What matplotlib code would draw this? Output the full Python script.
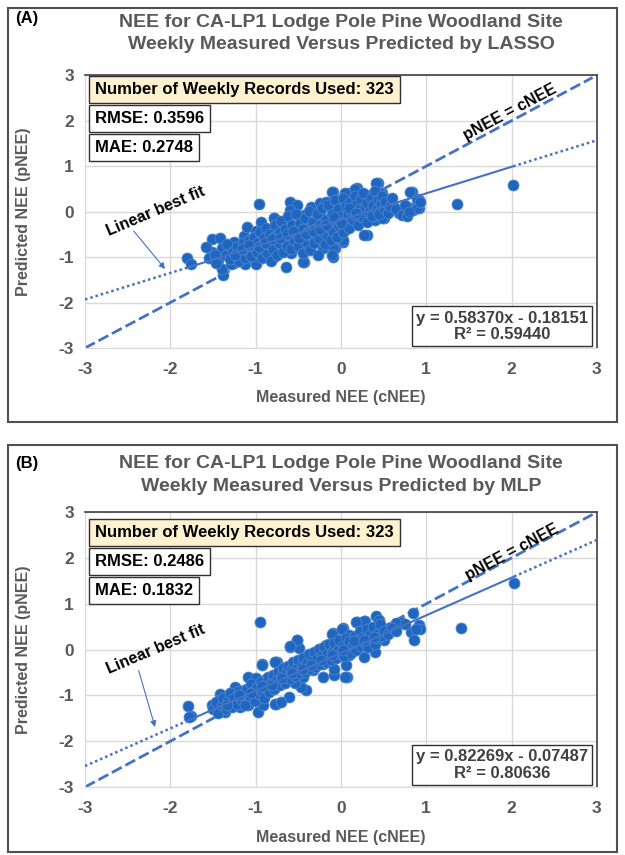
import numpy as np
import matplotlib
matplotlib.use('Agg')
import matplotlib.pyplot as plt
from matplotlib.patches import Rectangle

plt.rcParams['font.family'] = ['Liberation Sans', 'DejaVu Sans']
plt.rcParams['font.weight'] = 'bold'
plt.rcParams['axes.labelweight'] = 'bold'
plt.rcParams['axes.unicode_minus'] = False

# measured (cNEE), predicted (pNEE) pairs
lasso_points = [
    (-0.96, 0.17), (-0.79, -0.14), (-1.80, -1.02), (-1.76, -1.16), (-1.51, -0.61), (-1.42, -0.58),
    (-1.51, -0.89), (-1.40, -0.80), (-1.44, -1.07), (-1.38, -1.40), (-1.40, -1.26), (-1.29, -1.16),
    (-1.25, -0.67), (-1.14, -0.53), (-1.10, -0.34), (-0.94, -0.23), (-1.00, -0.42), (-1.22, -1.00),
    (-1.12, -1.15), (-1.00, -1.16), (-1.04, -0.85), (-0.91, -0.74), (-0.82, -1.00), (-0.75, -0.45),
    (-0.84, -0.64), (-0.76, -0.78), (-0.79, -0.13), (-0.60, 0.22), (-0.51, 0.15), (-0.60, 0.04),
    (-0.62, -0.26), (-0.74, -0.40), (-0.78, -0.63), (-0.66, -0.55), (-0.70, -0.81), (-0.78, -0.99),
    (-0.64, -1.21), (-0.58, -0.92), (-0.43, -1.10), (-0.46, -0.85), (-0.54, -0.70), (-0.43, -0.63),
    (-0.35, -0.33), (-0.43, -0.07), (-0.35, 0.11), (-0.25, 0.18), (-0.09, 0.44), (-0.17, 0.22),
    (-0.03, 0.18), (0.09, 0.40), (0.19, 0.51), (0.07, 0.18), (-0.23, -0.11), (-0.15, -0.26),
    (-0.29, -0.48), (-0.23, -0.63), (-0.21, -0.81), (-0.07, -0.81), (-0.09, -0.99), (0.03, -0.66),
    (0.05, -0.40), (0.15, -0.26), (0.20, -0.15), (0.30, -0.51), (0.24, 0.04), (0.34, 0.37),
    (0.44, 0.63), (0.48, 0.40), (0.36, 0.11), (0.40, -0.04), (0.40, -0.18), (0.50, -0.15),
    (0.13, -0.04), (0.62, 0.11), (0.68, 0.00), (0.83, 0.44), (0.91, 0.26), (0.83, 0.07),
    (0.91, 0.07), (-0.09, -0.29), (-0.03, -0.15), (-0.43, -0.33), (-0.50, -0.44), (1.36, 0.17),
    (2.02, 0.59), (0.61, 0.12), (0.66, 0.03), (0.68, -0.03), (0.81, 0.43), (0.81, 0.08),
    (0.84, 0.03), (0.89, 0.27), (0.89, 0.08), (-0.11, 0.43), (0.16, 0.49), (0.41, 0.62),
    (0.46, 0.41), (0.48, -0.14), (0.38, -0.10), (0.27, -0.52), (-0.09, -0.80), (-0.11, -0.96),
    (-0.44, -1.11), (0.02, -0.63), (0.05, 0.41),
    (-1.58, -0.78), (-1.55, -1.02), (-1.48, -0.95), (-1.46, -1.12), (-1.35, -0.95), (-1.33, -0.72),
    (-1.30, -1.05), (-1.27, -0.88), (-1.22, -0.78), (-1.20, -1.08), (-1.18, -0.92), (-1.15, -0.70),
    (-1.13, -1.02), (-1.10, -0.85), (-1.08, -0.62), (-1.06, -0.98), (-1.04, -0.75), (-1.02, -0.55),
    (-0.98, -0.88), (-0.97, -0.66), (-0.95, -0.45), (-0.93, -1.02), (-0.92, -0.80), (-0.90, -0.58),
    (-0.88, -0.35), (-0.87, -0.92), (-0.85, -0.72), (-0.83, -0.50), (-0.82, -1.08), (-0.80, -0.82),
    (-0.78, -0.55), (-0.77, -0.30), (-0.75, -0.95), (-0.73, -0.68), (-0.72, -0.45), (-0.70, -0.20),
    (-0.68, -0.88), (-0.67, -0.60), (-0.65, -0.38), (-0.63, -0.75), (-0.62, -0.10), (-0.60, -0.52),
    (-0.58, -0.82), (-0.57, -0.30), (-0.55, -0.62), (-0.53, -0.05), (-0.52, -0.48), (-0.50, -0.75),
    (-0.48, -0.25), (-0.47, -0.55), (-0.45, -0.92), (-0.44, -0.38), (-0.42, -0.15), (-0.40, -0.68),
    (-0.39, -0.45), (-0.37, 0.02), (-0.36, -0.85), (-0.34, -0.55), (-0.33, -0.22), (-0.31, -0.70),
    (-0.30, -0.38), (-0.28, -0.05), (-0.27, -0.95), (-0.26, -0.58), (-0.24, -0.30), (-0.22, 0.08),
    (-0.21, -0.45), (-0.19, -0.72), (-0.18, -0.18), (-0.16, -0.52), (-0.15, 0.15), (-0.13, -0.35),
    (-0.12, -0.62), (-0.10, -0.05), (-0.09, -0.42), (-0.07, 0.25), (-0.06, -0.20), (-0.05, -0.55),
    (-0.03, 0.05), (-0.02, -0.32), (0.00, -0.10), (0.02, 0.30), (0.03, -0.45), (0.05, -0.22),
    (0.06, 0.12), (0.08, -0.05), (0.10, -0.35), (0.11, 0.22), (0.12, 0.02), (0.14, -0.18),
    (0.16, 0.35), (0.17, -0.08), (0.18, 0.15), (0.20, -0.30), (0.22, 0.05), (0.23, 0.28),
    (0.25, -0.12), (0.26, 0.42), (0.28, 0.10), (0.30, -0.22), (0.31, 0.20), (0.33, 0.00),
    (0.35, 0.30), (0.36, -0.10), (0.38, 0.15), (0.40, 0.45), (0.42, 0.05), (0.43, 0.25),
    (0.45, -0.05), (0.47, 0.18), (0.48, 0.35), (0.50, 0.08), (0.52, 0.22), (0.55, -0.02),
    (0.57, 0.12), (0.60, 0.30), (0.64, 0.05), (0.72, -0.08), (0.75, 0.15), (0.78, -0.10),
    (0.80, 0.00), (0.93, 0.22),
    (-1.24, -0.95), (-1.16, -0.82), (-1.08, -0.74), (-0.96, -0.78), (-0.89, -0.68), (-0.81, -0.60),
    (-0.71, -0.58), (-0.63, -0.50), (-0.56, -0.42), (-0.49, -0.58), (-0.41, -0.50), (-0.33, -0.42),
    (-0.25, -0.38), (-0.17, -0.30), (-0.08, -0.12), (0.00, -0.25), (0.09, 0.08), (0.18, -0.02),
]

mlp_points = [
    (-0.95, 0.61), (-0.93, -0.32), (-0.77, -0.27), (-1.09, -0.60), (-1.00, -0.61), (-0.88, -0.64),
    (-1.14, -0.88), (-1.24, -0.82), (-1.42, -0.96), (-1.51, -1.22), (-1.43, -1.11), (-1.36, -1.36),
    (-1.26, -1.11), (-1.18, -1.26), (-1.09, -1.22), (-0.97, -1.36), (-0.91, -1.22), (-0.76, -1.18),
    (-1.79, -1.24), (-1.76, -1.44), (-1.78, -1.47), (-0.85, -0.89), (-0.77, -0.67), (-0.51, 0.21),
    (-0.93, -0.34), (-0.60, 0.05), (-0.49, 0.04), (-0.75, -0.27), (-0.09, 0.36), (0.02, 0.47),
    (0.19, 0.60), (0.28, 0.62), (0.07, -0.60), (0.41, 0.73), (0.45, 0.64), (0.27, 0.63),
    (0.18, 0.61), (0.84, 0.79), (0.70, 0.61), (0.64, 0.57), (0.91, 0.53), (0.93, 0.44),
    (0.82, 0.39), (0.86, 0.20), (0.51, 0.20), (0.40, -0.05), (0.27, -0.16), (0.06, -0.34),
    (0.05, -0.60), (-0.08, -0.56), (-0.08, -0.42), (-0.21, -0.60), (-0.10, 0.35), (0.01, 0.44),
    (0.10, 0.31), (-0.51, 0.20), (-0.60, 0.07), (-0.77, -0.27), (-0.41, -0.89), (-0.47, -0.82),
    (-0.61, -1.04), (-0.77, -1.18), (-0.70, -1.15), (0.21, 0.31), (0.33, 0.20), (-0.25, 0.02),
    (-0.18, 0.09), (-0.33, -0.12), (-0.41, -0.27), (-0.51, -0.38), (-0.60, -0.49), (-0.33, -0.45),
    (-0.21, -0.31), (-0.45, -0.60), (-0.54, -0.74), (-0.68, -0.67), (0.10, 0.06), (-0.02, 0.12),
    (0.21, 0.09), (0.33, 0.45), (0.10, -0.12), (1.41, 0.47), (2.03, 1.45),
    (-1.50, -1.30), (-1.47, -1.15), (-1.44, -1.38), (-1.40, -1.22), (-1.38, -1.05), (-1.35, -1.30),
    (-1.32, -1.12), (-1.30, -0.95), (-1.28, -1.25), (-1.25, -1.05), (-1.22, -1.18), (-1.20, -0.90),
    (-1.17, -1.08), (-1.15, -0.98), (-1.12, -1.20), (-1.10, -0.85), (-1.07, -1.02), (-1.05, -0.75),
    (-1.03, -0.92), (-1.01, -1.12), (-0.98, -0.82), (-0.96, -0.98), (-0.94, -0.70), (-0.92, -0.88),
    (-0.90, -1.05), (-0.88, -0.78), (-0.86, -0.60), (-0.84, -0.92), (-0.82, -0.72), (-0.80, -0.55),
    (-0.78, -0.85), (-0.76, -0.68), (-0.74, -0.48), (-0.72, -0.78), (-0.70, -0.58), (-0.68, -0.40),
    (-0.66, -0.72), (-0.64, -0.52), (-0.62, -0.35), (-0.60, -0.65), (-0.58, -0.45), (-0.56, -0.28),
    (-0.54, -0.58), (-0.52, -0.40), (-0.50, -0.22), (-0.48, -0.52), (-0.46, -0.35), (-0.44, -0.18),
    (-0.42, -0.48), (-0.40, -0.30), (-0.38, -0.10), (-0.36, -0.42), (-0.34, -0.25), (-0.32, -0.05),
    (-0.30, -0.38), (-0.28, -0.20), (-0.26, 0.02), (-0.24, -0.32), (-0.22, -0.15), (-0.20, 0.05),
    (-0.18, -0.28), (-0.16, -0.10), (-0.14, 0.12), (-0.12, -0.22), (-0.10, -0.05), (-0.08, 0.15),
    (-0.06, -0.18), (-0.04, 0.00), (-0.02, 0.20), (0.00, -0.10), (0.02, 0.08), (0.04, -0.15),
    (0.06, 0.25), (0.08, 0.02), (0.10, 0.18), (0.12, -0.08), (0.14, 0.10), (0.16, 0.30),
    (0.18, 0.00), (0.20, 0.20), (0.22, 0.40), (0.24, 0.08), (0.26, 0.28), (0.28, 0.15),
    (0.30, 0.45), (0.32, 0.05), (0.34, 0.32), (0.36, 0.20), (0.38, 0.50), (0.40, 0.12),
    (0.42, 0.35), (0.44, 0.25), (0.46, 0.55), (0.48, 0.30), (0.50, 0.40), (0.55, 0.35),
    (0.60, 0.48), (0.65, 0.40), (0.75, 0.55), (0.88, 0.45),
    (-1.33, -1.20), (-1.19, -1.00), (-1.06, -0.95), (-0.93, -0.80), (-0.81, -0.78), (-0.69, -0.62),
    (-0.57, -0.52), (-0.45, -0.42), (-0.35, -0.34), (-0.23, -0.22), (-0.11, -0.12), (0.03, 0.00),
    (0.15, 0.18), (0.27, 0.22), (0.39, 0.28),
]

panel_tags = ['(A)', '(B)']
model_names = ['LASSO', 'MLP']
n_records = [323, 323]
rmse_vals = ['0.3596', '0.2486']
mae_vals = ['0.2748', '0.1832']
fit_slopes = [0.58370, 0.82269]
fit_intercepts = [-0.18151, -0.07487]
r2_vals = ['0.59440', '0.80636']
ticks = [-3, -2, -1, 0, 1, 2, 3]

GRAY = '#595959'
BLUE = '#4472C4'
DOT = '#1f66c1'

fig = plt.figure(figsize=(6.25, 8.55), dpi=100)

# panel geometry in figure fractions
axes_rects = [[0.136, 0.593, 0.819, 0.319], [0.136, 0.0795, 0.819, 0.3215]]
frame_rects = [[0.013, 0.507, 0.974, 0.484], [0.013, 0.003, 0.974, 0.476]]
title_y = [1 - 33.5 / 855, 1 - 475 / 855]
tag_y = [1 - 18 / 855, 1 - 463 / 855]
box_y = [[0.948, 0.842, 0.736], [0.925, 0.821, 0.716]]
pnee_pos = [(1.98, 2.19), (2.0, 2.13)]
note_pos = [(-2.17, 0.0), (-2.17, 0.0)]
arrow_from = [(-2.45, -0.38), (-2.38, -0.40)]
arrow_to = [(-2.04, -1.31), (-2.17, -1.75)]

for i, pts in enumerate([lasso_points, mlp_points]):
    fig.patches.append(Rectangle(frame_rects[i][:2], frame_rects[i][2], frame_rects[i][3],
                                 transform=fig.transFigure, fill=False,
                                 edgecolor='#505050', lw=1.5))
    fig.text(0.024, tag_y[i], panel_tags[i], fontsize=12, color='black', va='center')
    fig.text(0.546, title_y[i],
             'NEE for CA-LP1 Lodge Pole Pine Woodland Site\n'
             'Weekly Measured Versus Predicted by ' + model_names[i],
             ha='center', va='center', fontsize=14, color=GRAY, linespacing=1.45)

    ax = fig.add_axes(axes_rects[i])
    xs = np.array([p[0] for p in pts])
    ys = np.array([p[1] for p in pts])

    ax.set_xlim(-3, 3)
    ax.set_ylim(-3, 3)
    ax.set_xticks(ticks)
    ax.set_yticks(ticks)
    ax.grid(True, color='#d9d9d9', lw=1)
    ax.set_axisbelow(True)
    ax.tick_params(length=0, labelsize=12.5, labelcolor=GRAY)
    ax.tick_params(axis='x', pad=10)
    ax.tick_params(axis='y', pad=8)
    for s in ['left', 'bottom']:
        ax.spines[s].set_color('#d9d9d9')
    for s in ['top', 'right']:
        ax.spines[s].set_color('#404040')
        ax.spines[s].set_linewidth(1.2)

    ax.set_xlabel('Measured NEE (cNEE)', fontsize=11.5, color=GRAY)
    ax.set_ylabel('Predicted NEE (pNEE)', fontsize=11.5, color=GRAY)
    ax.xaxis.set_label_coords(0.5, -0.155)
    ax.yaxis.set_label_coords(-0.105, 0.5)

    # 1:1 line
    ax.plot([-3, 2.95], [-3, 2.95], ls=(0, (4, 1.5)), color=BLUE, lw=2, zorder=2)

    # linear fit: solid over data, dotted as extension
    m, b = fit_slopes[i], fit_intercepts[i]
    x0, x1 = xs.min(), xs.max()
    ax.plot([x0, x1], [m * x0 + b, m * x1 + b], color=BLUE, lw=1.5, zorder=4)
    ax.plot([-3, x0], [m * -3 + b, m * x0 + b], color=BLUE, lw=1.8, ls=(0, (1, 1.2)), zorder=4)
    ax.plot([x1, 3], [m * x1 + b, m * 3 + b], color=BLUE, lw=1.8, ls=(0, (1, 1.2)), zorder=4)

    ax.scatter(xs, ys, s=62, color=DOT, edgecolor='#4f86cc', lw=0.6, zorder=3)

    ax.text(pnee_pos[i][0], pnee_pos[i][1], 'pNEE = cNEE', fontsize=11.5, color='black',
            rotation=28, ha='center', va='center', rotation_mode='anchor', zorder=6)
    ax.text(note_pos[i][0], note_pos[i][1], 'Linear best fit', fontsize=11.5, color='black',
            rotation=23, ha='center', va='center', rotation_mode='anchor', zorder=6)
    ax.annotate('', xy=arrow_to[i], xytext=arrow_from[i],
                arrowprops=dict(arrowstyle='-|>', color=BLUE, lw=0.8, mutation_scale=9))

    ax.text(0.02, box_y[i][0], 'Number of Weekly Records Used: %d' % n_records[i],
            transform=ax.transAxes, fontsize=12, color='black', va='center', zorder=7,
            bbox=dict(boxstyle='square,pad=0.35', fc='#fdf1cf', ec='#303030', lw=1))
    ax.text(0.02, box_y[i][1], 'RMSE: ' + rmse_vals[i],
            transform=ax.transAxes, fontsize=12, color='black', va='center', zorder=7,
            bbox=dict(boxstyle='square,pad=0.35', fc='white', ec='#303030', lw=1))
    ax.text(0.02, box_y[i][2], 'MAE: ' + mae_vals[i],
            transform=ax.transAxes, fontsize=12, color='black', va='center', zorder=7,
            bbox=dict(boxstyle='square,pad=0.35', fc='white', ec='#303030', lw=1))

    ax.text(0.815, 0.08, 'y = %.5fx - %.5f\nR² = %s' % (m, -b, r2_vals[i]),
            transform=ax.transAxes, fontsize=12, color='#404040', ha='center', va='center',
            multialignment='center', zorder=7, linespacing=1.1,
            bbox=dict(boxstyle='square,pad=0.25', fc='white', ec='#303030', lw=1))

fig.savefig('out.png', dpi=100)
